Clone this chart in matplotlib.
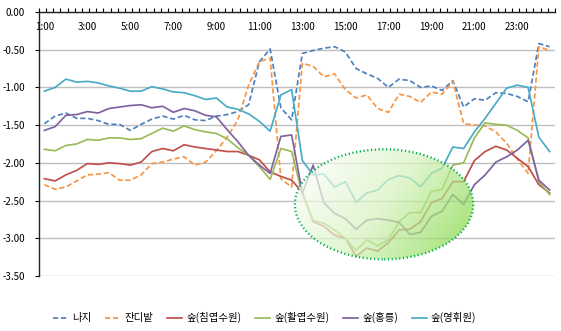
import numpy as np
import matplotlib
matplotlib.use("Agg")
import matplotlib.pyplot as plt
from matplotlib.patches import Ellipse
from matplotlib.colors import LinearSegmentedColormap

plt.rcParams['font.family'] = ['Noto Sans CJK KR', 'DejaVu Sans']

# =================================
# DATA (30-minute steps, 1:00 ~ 24:30)
# =================================

time_labels = ["1:00", "3:00", "5:00", "7:00", "9:00", "11:00",
               "13:00", "15:00", "17:00", "19:00", "21:00", "23:00"]
y_labels = ["0.00", "-0.50", "-1.00", "-1.50", "-2.00", "-2.50", "-3.00", "-3.50"]
y_values = [0.0, -0.5, -1.0, -1.5, -2.0, -2.5, -3.0, -3.5]

bare = [-1.48, -1.38, -1.34, -1.41, -1.41, -1.44, -1.49, -1.49, -1.57, -1.49,
        -1.42, -1.38, -1.42, -1.37, -1.43, -1.44, -1.38, -1.36, -1.32, -1.23,
        -0.66, -0.49, -1.27, -1.43, -0.55, -0.51, -0.48, -0.46, -0.53, -0.75,
        -0.82, -0.88, -1.00, -0.89, -0.91, -1.00, -0.98, -1.04, -0.91, -1.26,
        -1.15, -1.17, -1.07, -1.08, -1.12, -1.19, -0.42, -0.46]

lawn = [-2.29, -2.35, -2.32, -2.24, -2.16, -2.15, -2.13, -2.23, -2.23, -2.16,
        -2.01, -1.99, -1.95, -1.92, -2.03, -1.99, -1.84, -1.66, -1.43, -0.97,
        -0.66, -0.61, -2.21, -2.32, -0.68, -0.72, -0.86, -0.82, -1.03, -1.14,
        -1.10, -1.28, -1.33, -1.09, -1.12, -1.20, -1.06, -1.09, -0.92, -1.48,
        -1.50, -1.51, -1.59, -1.74, -1.95, -2.14, -0.46, -0.51]

conifer = [-2.21, -2.24, -2.16, -2.10, -2.01, -2.02, -2.00, -2.01, -2.03, -1.99,
           -1.85, -1.81, -1.84, -1.76, -1.79, -1.81, -1.83, -1.85, -1.85, -1.90,
           -1.96, -2.12, -2.18, -2.23, -2.39, -2.78, -2.84, -2.96, -3.00, -3.24,
           -3.13, -3.17, -3.06, -2.89, -2.88, -2.78, -2.53, -2.47, -2.25, -2.25,
           -1.97, -1.85, -1.78, -1.83, -1.94, -2.05, -2.29, -2.40]

broadleaf = [-1.82, -1.84, -1.77, -1.75, -1.69, -1.70, -1.67, -1.67, -1.69, -1.68,
             -1.61, -1.54, -1.58, -1.51, -1.56, -1.59, -1.61, -1.68, -1.80, -1.90,
             -2.05, -2.22, -1.81, -1.85, -2.42, -2.76, -2.80, -2.89, -3.00, -3.16,
             -3.02, -3.10, -3.02, -2.78, -2.66, -2.66, -2.38, -2.35, -2.03, -2.00,
             -1.67, -1.47, -1.49, -1.50, -1.57, -1.67, -2.25, -2.42]

hongneung = [-1.57, -1.52, -1.37, -1.36, -1.32, -1.34, -1.28, -1.26, -1.24, -1.23,
             -1.27, -1.25, -1.33, -1.28, -1.31, -1.37, -1.39, -1.56, -1.72, -1.90,
             -2.03, -2.14, -1.65, -1.63, -2.40, -2.03, -2.53, -2.67, -2.74, -2.88,
             -2.76, -2.74, -2.76, -2.79, -2.95, -2.92, -2.71, -2.64, -2.42, -2.55,
             -2.29, -2.16, -1.99, -1.92, -1.83, -1.70, -2.23, -2.36]

yeonghwiwon = [-1.05, -1.00, -0.89, -0.93, -0.92, -0.94, -0.98, -1.01, -1.05, -1.05,
               -0.99, -1.02, -1.06, -1.07, -1.11, -1.16, -1.14, -1.26, -1.29, -1.35,
               -1.45, -1.58, -1.10, -1.03, -1.97, -2.16, -2.15, -2.32, -2.25, -2.52,
               -2.40, -2.36, -2.22, -2.17, -2.20, -2.32, -2.14, -2.07, -1.79, -1.81,
               -1.59, -1.41, -1.21, -1.01, -0.97, -1.00, -1.66, -1.85]

x = np.arange(len(bare))

# =================================
# CHART
# =================================

fig = plt.figure(figsize=(5.61, 3.31), dpi=100)
ax = fig.add_axes([0.0695, 0.1662, 0.9198, 0.7976])

dash = (0, (3, 1.6))
ax.plot(x, bare, color="#4F81BD", lw=1.25, linestyle=dash, label="나지")
ax.plot(x, lawn, color="#F79646", lw=1.25, linestyle=dash, label="잔디밭")
ax.plot(x, conifer, color="#C0504D", lw=1.25, label="숲(침엽수원)")
ax.plot(x, broadleaf, color="#9BBB59", lw=1.25, label="숲(활엽수원)")
ax.plot(x, hongneung, color="#8064A2", lw=1.25, label="숲(홍릉)")
ax.plot(x, yeonghwiwon, color="#4BACC6", lw=1.25, label="숲(영휘원)")

ax.set_xlim(-0.5, 47.5)
ax.set_ylim(-3.5, 0)

# y axis
ax.set_yticks(y_values)
ax.set_yticklabels(y_labels, fontsize=7, color="black", fontweight="medium")
ax.tick_params(axis="y", direction="out", length=3, width=0.8, pad=7, colors="black")
ax.yaxis.grid(True, color="#BFBFBF", lw=1.0)
ax.set_axisbelow(True)

# x axis sits at 0 (top edge)
ax.xaxis.tick_top()
ax.set_xticks(-0.5 + np.arange(73) * (48 / 72))
ax.tick_params(axis="x", direction="out", length=3, width=0.8, labeltop=False,
               labelbottom=False, colors="black")
for k, lab in enumerate(time_labels):
    ax.text(k * 4, 0.945, lab, transform=ax.get_xaxis_transform(),
            ha="center", va="center", fontsize=7, color="black", fontweight="medium")

for side in ["right", "bottom"]:
    ax.spines[side].set_visible(False)
ax.spines["top"].set_color("#222222")
ax.spines["left"].set_color("#222222")
ax.spines["top"].set_linewidth(1.0)
ax.spines["left"].set_linewidth(1.0)

# highlight ellipse with gradient fill
cx, cy, ew, eh = 31.6, -2.55, 16.6, 1.46
ell = Ellipse((cx, cy), ew, eh, transform=ax.transData, facecolor="none",
              edgecolor="#00B050", lw=1.7, linestyle=(0, (0.5, 1.1)), zorder=6)
ax.add_patch(ell)

gx, gy = np.meshgrid(np.linspace(0, 1, 200), np.linspace(0, 1, 120))
grad = np.clip(0.75 * gx + 0.35 * gy - 0.05, 0, 1)
cmap = LinearSegmentedColormap.from_list("glow", ["#FFFFFF", "#D6F3BE", "#7ED63E"])
img = ax.imshow(grad, cmap=cmap, extent=(cx - ew / 2, cx + ew / 2, cy - eh / 2, cy + eh / 2),
                origin="upper", aspect="auto", alpha=0.72, zorder=5, interpolation="bilinear")
img.set_clip_path(ell)

fig.legend(loc="center", bbox_to_anchor=(0.472, 0.04), ncol=6, frameon=False,
           fontsize=7.5, handlelength=1.45, handletextpad=0.4, columnspacing=1.3)

plt.savefig("out.png", dpi=100)
